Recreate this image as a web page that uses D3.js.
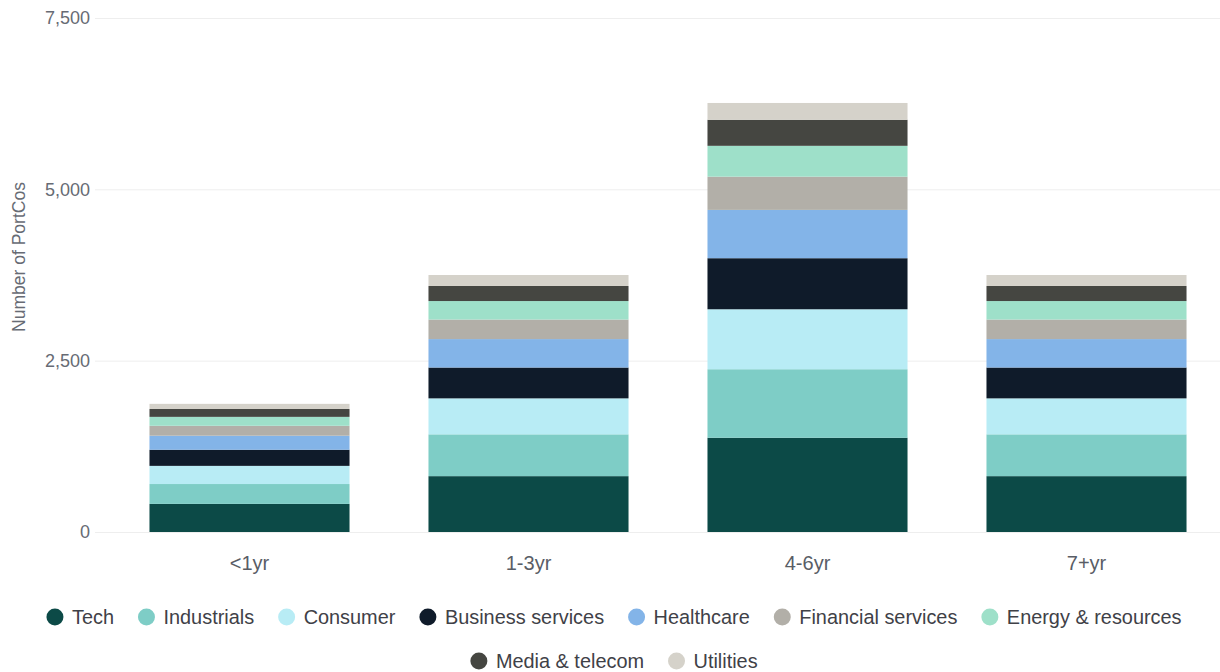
<!DOCTYPE html>
<html>
<head>
<meta charset="utf-8">
<script src="https://cdn.jsdelivr.net/npm/d3@7"></script>
<style>
  html, body { margin: 0; padding: 0; background: #ffffff; }
  svg { display: block; font-family: "Liberation Sans", Arial, Helvetica, sans-serif; }
</style>
</head>
<body>
<svg id="chart" width="1220" height="672"></svg>
<script>
// Holding-period buckets
const categories = ["<1yr", "1-3yr", "4-6yr", "7+yr"];

// Sectors, stacked bottom to top
const sectors = ["Tech", "Industrials", "Consumer", "Business services", "Healthcare",
                 "Financial services", "Energy & resources", "Media & telecom", "Utilities"];
const sectorColors = ["#0c4a47", "#7ecdc6", "#b8ecf5", "#0f1b2a", "#83b4e8",
                      "#b2afa8", "#9ee0c9", "#454641", "#d5d2ca"];

// Number of portfolio companies per sector, one value per bucket
const tech              = [410, 815, 1375, 815];
const industrials       = [290, 610, 1000, 610];
const consumer          = [265, 525, 875, 525];
const businessServices  = [235, 450, 745, 450];
const healthcare        = [205, 415, 705, 415];
const financialServices = [145, 285, 485, 285];
const energyResources   = [130, 270, 450, 270];
const mediaTelecom      = [115, 220, 380, 220];
const utilities         = [75, 160, 245, 160];

const yTicks = [0, 2500, 5000, 7500];

const seriesValues = [tech, industrials, consumer, businessServices, healthcare,
                      financialServices, energyResources, mediaTelecom, utilities];

const rows = categories.map((c, i) => {
  const r = { category: c };
  sectors.forEach((s, j) => { r[s] = seriesValues[j][i]; });
  return r;
});

const svg = d3.select("#chart");

const x = d3.scaleBand()
  .domain(categories)
  .range([110, 1226])
  .paddingInner(0.283)
  .paddingOuter(0.1415);

const y = d3.scaleLinear()
  .domain([0, 7500])
  .range([532, 18]);

// Horizontal gridlines
svg.append("g")
  .selectAll("line")
  .data(yTicks)
  .join("line")
  .attr("x1", 95)
  .attr("x2", 1220)
  .attr("y1", d => y(d) + 0.5)
  .attr("y2", d => y(d) + 0.5)
  .attr("stroke", "#eeeeee")
  .attr("stroke-width", 1);

// Y axis labels
const yAxis = d3.axisLeft(y)
  .tickValues(yTicks)
  .tickFormat(d3.format(","))
  .tickSize(0)
  .tickPadding(0);

svg.append("g")
  .attr("transform", "translate(90,0)")
  .call(yAxis)
  .call(g => g.select(".domain").remove())
  .call(g => g.selectAll("text")
    .attr("fill", "#676b74")
    .attr("font-size", 18)
    .attr("font-family", "Liberation Sans, Arial, Helvetica, sans-serif"));

// Y axis title
svg.append("text")
  .attr("transform", "translate(25,257) rotate(-90)")
  .attr("text-anchor", "middle")
  .attr("fill", "#676b74")
  .attr("font-size", 17.5)
  .text("Number of PortCos");

// Stacked bars
const stack = d3.stack().keys(sectors);
const layers = stack(rows);

svg.append("g")
  .selectAll("g")
  .data(layers)
  .join("g")
  .attr("fill", (d, i) => sectorColors[i])
  .selectAll("rect")
  .data(d => d)
  .join("rect")
  .attr("x", d => x(d.data.category))
  .attr("width", x.bandwidth())
  .attr("y", d => y(d[1]))
  .attr("height", d => y(d[0]) - y(d[1]));

// X axis labels
const xAxis = d3.axisBottom(x).tickSize(0).tickPadding(0);
svg.append("g")
  .attr("transform", "translate(0,556)")
  .call(xAxis)
  .call(g => g.select(".domain").remove())
  .call(g => g.selectAll("text")
    .attr("fill", "#595d66")
    .attr("font-size", 20)
    .attr("dy", "0.71em")
    .attr("font-family", "Liberation Sans, Arial, Helvetica, sans-serif"));

// Legend, two centred rows
const legendRows = [sectors.slice(0, 7), sectors.slice(7)];
const legendY = [617, 661];
const legendCenter = 614;
const r = 8.5, textGap = 8.5, itemGap = 24;

const legend = svg.append("g");
legendRows.forEach((items, ri) => {
  const row = legend.append("g");
  let cx = 0;
  items.forEach((name, k) => {
    const item = row.append("g").attr("transform", `translate(${cx},0)`);
    item.append("circle")
      .attr("cx", r).attr("cy", 0).attr("r", r)
      .attr("fill", sectorColors[sectors.indexOf(name)]);
    const t = item.append("text")
      .attr("x", 2 * r + textGap)
      .attr("y", 0)
      .attr("dy", "0.35em")
      .attr("font-size", 19.9)
      .attr("fill", "#3f4147")
      .text(name);
    const w = t.node().getComputedTextLength();
    cx += 2 * r + textGap + w + (k < items.length - 1 ? itemGap : 0);
  });
  row.attr("transform", `translate(${legendCenter - cx / 2},${legendY[ri]})`);
});
</script>
</body>
</html>
